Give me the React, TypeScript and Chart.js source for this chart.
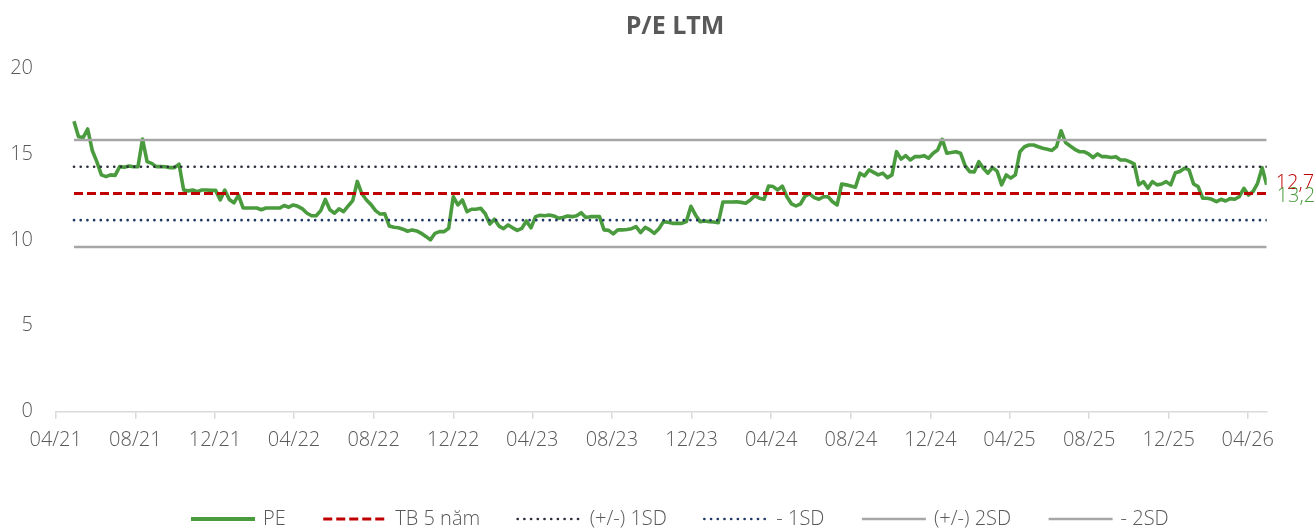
import { useEffect, useRef } from 'react';
import { Chart, registerables } from 'chart.js';

Chart.register(...registerables);

// ---- data ----
const axisOrigin = '2021-04-01';
const peStartDate = '2021-04-29';
const peStepDays = 7;
const peValues = [
  16.9, 16.0, 15.95, 16.45, 15.2, 14.55, 13.78, 13.68, 13.78, 13.75,
  14.26, 14.22, 14.3, 14.25, 14.25, 15.86, 14.55, 14.45, 14.26, 14.26,
  14.25, 14.2, 14.2, 14.4, 12.9, 12.85, 12.9, 12.8, 12.9, 12.9,
  12.88, 12.88, 12.32, 12.9, 12.35, 12.15, 12.6, 11.86, 11.85, 11.85,
  11.85, 11.75, 11.85, 11.85, 11.85, 11.85, 12.0, 11.9, 12.03, 11.95,
  11.8, 11.55, 11.4, 11.4, 11.7, 12.35, 11.75, 11.55, 11.8, 11.64,
  11.97, 12.28, 13.4, 12.68, 12.32, 12.05, 11.7, 11.5, 11.52, 10.8,
  10.73, 10.7, 10.62, 10.5, 10.58, 10.52, 10.38, 10.2, 10.0, 10.38,
  10.48, 10.48, 10.67, 12.51, 12.03, 12.32, 11.64, 11.78, 11.78, 11.84,
  11.52, 10.92, 11.2, 10.8, 10.65, 10.87, 10.7, 10.55, 10.67, 11.1,
  10.7, 11.35, 11.43, 11.4, 11.45, 11.39, 11.26, 11.3, 11.39, 11.35,
  11.4, 11.58, 11.3, 11.35, 11.35, 11.35, 10.58, 10.55, 10.35, 10.58,
  10.58, 10.6, 10.65, 10.77, 10.42, 10.73, 10.58, 10.38, 10.65, 11.06,
  11.02, 10.96, 10.96, 10.96, 11.06, 11.95, 11.45, 11.06, 11.1, 11.06,
  11.04, 11.0, 12.2, 12.2, 12.2, 12.22, 12.18, 12.13, 12.32, 12.57,
  12.42, 12.36, 13.13, 13.1, 12.9, 13.13, 12.51, 12.1, 11.97, 12.1,
  12.55, 12.67, 12.46, 12.36, 12.51, 12.51, 12.22, 12.03, 13.25, 13.2,
  13.13, 13.06, 13.88, 13.72, 14.07, 13.93, 13.78, 13.88, 13.62, 13.78,
  15.13, 14.7, 14.9, 14.65, 14.84, 14.84, 14.9, 14.75, 15.04, 15.23,
  15.85, 15.04, 15.08, 15.13, 15.04, 14.32, 13.97, 13.95, 14.55, 14.17,
  13.88, 14.2, 14.0, 13.2, 13.78, 13.59, 13.78, 15.13, 15.42, 15.52,
  15.52, 15.42, 15.33, 15.27, 15.2, 15.42, 16.35, 15.66, 15.46, 15.27,
  15.13, 15.13, 15.0, 14.79, 15.0, 14.84, 14.84, 14.79, 14.84, 14.65,
  14.65, 14.55, 14.42, 13.2, 13.39, 13.0, 13.39, 13.2, 13.25, 13.39,
  13.2, 13.9, 13.98, 14.17, 14.07, 13.25, 13.1, 12.42, 12.42, 12.36,
  12.22, 12.36, 12.26, 12.4, 12.36, 12.51, 13.0, 12.61, 12.81, 13.29,
  14.2, 13.2,
];
const tbValue = 12.7;
const sd1Upper = 14.255;
const sd1Lower = 11.145;
const sd2Upper = 15.81;
const sd2Lower = 9.59;
const xTickLabels = ['04/21', '08/21', '12/21', '04/22', '08/22', '12/22', '04/23', '08/23', '12/23', '04/24', '08/24', '12/24', '04/25', '08/25', '12/25', '04/26'];
const yTicks = [0, 5, 10, 15, 20];
const seriesLabels = ['PE', 'TB 5 năm', '(+/-) 1SD', '- 1SD', '(+/-) 2SD', '- 2SD'];
const chartTitle = 'P/E LTM';

// ---- style ----
const FONT = "'Open Sans', 'DejaVu Sans', sans-serif";
const TEXT = '#595959';
const GREEN = '#4A9B3E';
const RED = '#C00000';
const DARK = '#2B2F3A';
const NAVY = '#203864';
const GRAY = '#A6A6A6';

const dayNum = (s: string) => {
  const [y, m, d] = s.split('-').map(Number);
  return Date.UTC(y, m - 1, d) / 86400000;
};

const titlePlugin = {
  id: 'customTitle',
  afterDraw(chart: any) {
    const ctx = chart.ctx;
    ctx.save();
    ctx.font = `bold 25px ${FONT}`;
    ctx.fillStyle = TEXT;
    ctx.textAlign = 'center';
    ctx.textBaseline = 'middle';
    ctx.fillText(chartTitle, 675, 27);
    ctx.restore();
  },
};

const endLabelPlugin = {
  id: 'endLabels',
  afterDatasetsDraw(chart: any) {
    const ctx = chart.ctx;
    const items = [
      { ds: 1, dx: 9, dy: -10 },
      { ds: 0, dx: 10, dy: 11 },
    ];
    ctx.save();
    ctx.font = `300 20px ${FONT}`;
    ctx.textAlign = 'left';
    ctx.textBaseline = 'middle';
    items.forEach(({ ds, dx, dy }) => {
      const meta = chart.getDatasetMeta(ds);
      const pts = meta.data;
      const pt = pts[pts.length - 1];
      const d = chart.data.datasets[ds];
      const v = d.data[d.data.length - 1].y as number;
      ctx.fillStyle = d.borderColor;
      ctx.fillText(v.toFixed(1).replace('.', ','), pt.x + dx, pt.y + dy);
    });
    ctx.restore();
  },
};

const legendPlugin = {
  id: 'bottomLegend',
  afterDraw(chart: any) {
    const ctx = chart.ctx;
    const sample = 64;
    const gapText = 8;
    const gapItem = 37.5;
    const startX = 191;
    const y = 519;
    ctx.save();
    ctx.font = `300 20px ${FONT}`;
    const ds = chart.data.datasets;
    const widths = ds.map((d: any) => sample + gapText + ctx.measureText(d.label).width);
    let x = startX;
    ds.forEach((d: any, i: number) => {
      ctx.beginPath();
      ctx.setLineDash(d.borderDash || []);
      ctx.lineCap = d.borderCapStyle || 'butt';
      ctx.lineWidth = d.legendWidth || d.borderWidth;
      ctx.strokeStyle = d.borderColor;
      ctx.moveTo(x, y);
      ctx.lineTo(x + sample, y);
      ctx.stroke();
      ctx.setLineDash([]);
      ctx.fillStyle = TEXT;
      ctx.textAlign = 'left';
      ctx.textBaseline = 'middle';
      ctx.fillText(d.label, x + sample + gapText, y);
      x += widths[i] + gapItem;
    });
    ctx.restore();
  },
};

export default function App() {
  const ref = useRef<HTMLCanvasElement>(null);

  useEffect(() => {
    const canvas = ref.current;
    if (!canvas) return;
    const origin = dayNum(axisOrigin);
    const x0 = dayNum(peStartDate) - origin;
    const pePoints = peValues.map((v, i) => ({ x: x0 + i * peStepDays, y: v }));
    const xFirst = pePoints[0].x;
    const xLast = pePoints[pePoints.length - 1].x;
    const flat = (v: number) => [{ x: xFirst, y: v }, { x: xLast, y: v }];
    const tickValues = xTickLabels.map((l) => {
      const [mm, yy] = l.split('/').map(Number);
      return Date.UTC(2000 + yy, mm - 1, 1) / 86400000 - origin;
    });

    const common = { pointRadius: 0, pointHoverRadius: 0, tension: 0, fill: false };
    const tickFont = { family: FONT, size: 20, weight: 300 };

    const chart = new Chart(canvas, {
      type: 'line',
      data: {
        datasets: [
          { ...common, label: seriesLabels[0], data: pePoints, borderColor: GREEN, borderWidth: 3.6, legendWidth: 4, order: 10, borderJoinStyle: 'round' } as any,
          { ...common, label: seriesLabels[1], data: flat(tbValue), borderColor: RED, borderWidth: 3, borderDash: [9, 4], order: 1 } as any,
          { ...common, label: seriesLabels[2], data: flat(sd1Upper), borderColor: DARK, borderWidth: 2.6, borderDash: [0.1, 6.6], borderCapStyle: 'round', order: 2 } as any,
          { ...common, label: seriesLabels[3], data: flat(sd1Lower), borderColor: NAVY, borderWidth: 2.6, borderDash: [0.1, 6.6], borderCapStyle: 'round', order: 3 } as any,
          { ...common, label: seriesLabels[4], data: flat(sd2Upper), borderColor: GRAY, borderWidth: 2.5, order: 4 } as any,
          { ...common, label: seriesLabels[5], data: flat(sd2Lower), borderColor: GRAY, borderWidth: 2.5, order: 5 } as any,
        ],
      },
      options: {
        responsive: false,
        animation: false,
        devicePixelRatio: 1,
        events: [],
        layout: { padding: { left: 0, right: 49.3, top: 68, bottom: 55 } },
        plugins: {
          legend: { display: false },
          tooltip: { enabled: false },
          title: { display: false },
        },
        scales: {
          x: {
            type: 'linear',
            min: 0,
            max: xLast,
            afterBuildTicks: (s: any) => {
              s.ticks = tickValues.map((v) => ({ value: v }));
            },
            afterFit: (s: any) => {
              s.height = 62.3;
            },
            ticks: {
              autoSkip: false,
              maxRotation: 0,
              minRotation: 0,
              padding: 9.3,
              color: TEXT,
              font: tickFont,
              callback: (_v: any, i: number) => xTickLabels[i],
            },
            grid: { display: true, drawOnChartArea: false, drawTicks: true, tickLength: 7, color: '#D9D9D9', lineWidth: 1.5 },
            border: { display: true, color: '#D9D9D9', width: 1.5 },
          },
          y: {
            type: 'linear',
            min: 0,
            max: 20,
            afterBuildTicks: (s: any) => {
              s.ticks = yTicks.map((v) => ({ value: v }));
            },
            afterFit: (s: any) => {
              s.width = 55.7;
            },
            ticks: {
              padding: 22.7,
              color: TEXT,
              font: tickFont,
              callback: (v: any) => String(v),
            },
            grid: { display: false, drawTicks: false },
            border: { display: false },
          },
        },
      } as any,
      plugins: [titlePlugin, endLabelPlugin, legendPlugin],
    });
    return () => chart.destroy();
  }, []);

  return (
    <div style={{ position: 'fixed', left: 0, top: 0, width: 1316, height: 529, background: '#ffffff' }}>
      <canvas ref={ref} width={1316} height={529} style={{ display: 'block' }} />
    </div>
  );
}
